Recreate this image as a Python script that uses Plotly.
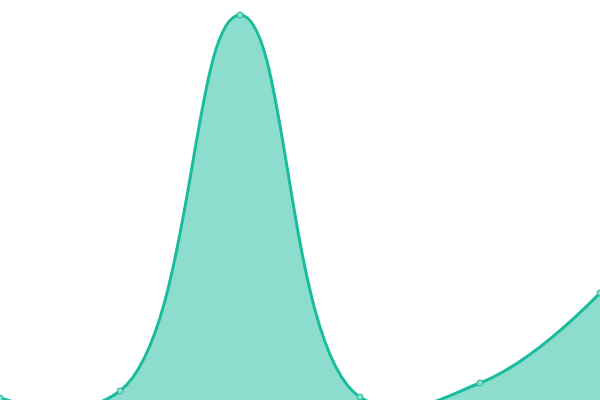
import plotly.graph_objects as go

categories = [0, 1, 2, 3, 4, 5]
values = [2, 9, 385, 3, 17, 107]

fig = go.Figure()
fig.add_trace(go.Scatter(
    x=categories, y=values,
    mode="lines+markers",
    line=dict(shape="spline", smoothing=1.2, color="#1abc9c", width=3),
    marker=dict(size=6, color="#8ae0cf", line=dict(color="#1abc9c", width=1)),
    fill="tozeroy",
    fillcolor="rgba(26,188,156,0.5)",
    hoverinfo="skip",
    cliponaxis=False,
))
fig.update_layout(
    width=600, height=400,
    margin=dict(l=0, r=0, t=0, b=0),
    paper_bgcolor="white", plot_bgcolor="white",
    showlegend=False,
    xaxis=dict(visible=False, range=[0, 5], fixedrange=True),
    yaxis=dict(visible=False, range=[0, 400], fixedrange=True),
)
fig.write_html(
    "out.html",
    config={"displayModeBar": False},
    post_script="document.body.style.margin='0';document.body.style.overflow='hidden';",
)
